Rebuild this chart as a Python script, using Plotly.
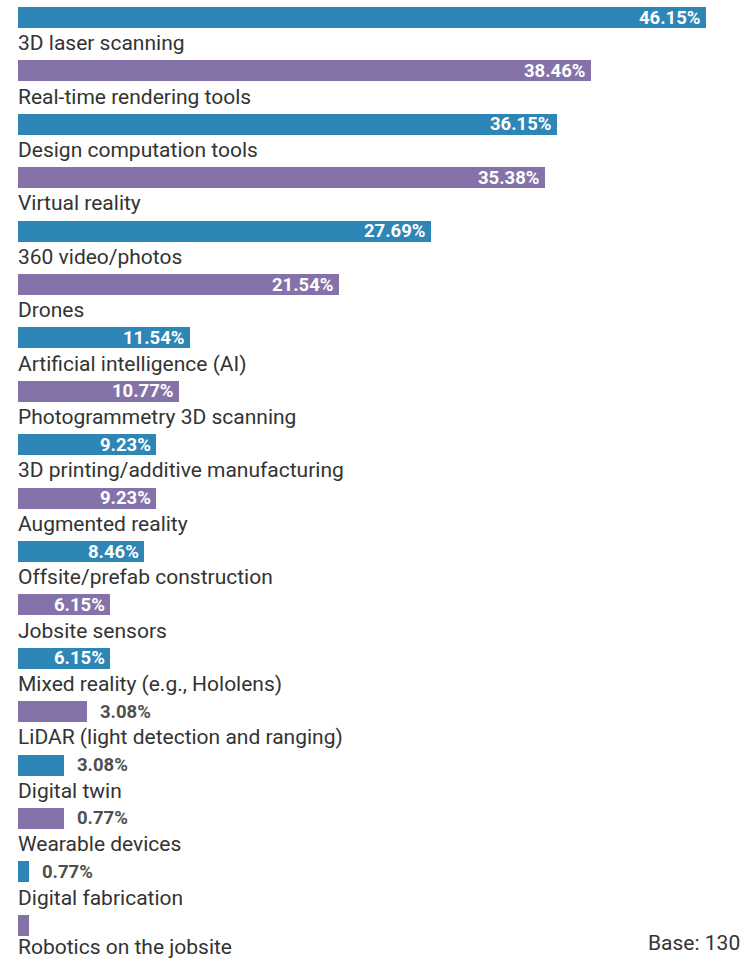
import plotly.graph_objects as go

categories = [
    "3D laser scanning", "Real-time rendering tools", "Design computation tools",
    "Virtual reality", "360 video/photos", "Drones", "Artificial intelligence (AI)",
    "Photogrammetry 3D scanning", "3D printing/additive manufacturing",
    "Augmented reality", "Offsite/prefab construction", "Jobsite sensors",
    "Mixed reality (e.g., Hololens)", "LiDAR (light detection and ranging)",
    "Digital twin", "Wearable devices", "Digital fabrication", "Robotics on the jobsite",
]
# bar lengths as drawn (percent)
values = [46.15, 38.46, 36.15, 35.38, 27.69, 21.54, 11.54, 10.77, 9.23, 9.23,
          8.46, 6.15, 6.15, 4.62, 3.08, 3.08, 0.77, 0.77]
# value labels as printed
value_labels = ["46.15%", "38.46%", "36.15%", "35.38%", "27.69%", "21.54%", "11.54%",
                "10.77%", "9.23%", "9.23%", "8.46%", "6.15%", "6.15%", "3.08%",
                "3.08%", "0.77%", "0.77%", ""]
inside_label = [True] * 13 + [False] * 5
base_note = "Base: 130"

BLUE = "#2e86b6"
PURPLE = "#8572a8"
colors = [BLUE if i % 2 == 0 else PURPLE for i in range(len(categories))]
ypos = list(range(len(categories)))

fig = go.Figure()
fig.add_trace(go.Bar(
    x=values, y=ypos, orientation="h", marker=dict(color=colors, line=dict(width=0)),
    width=0.395, hoverinfo="skip", showlegend=False,
))

n = len(categories)
annotations = []
for i, (cat, v, lab, ins) in enumerate(zip(categories, values, value_labels, inside_label)):
    annotations.append(dict(
        x=0, y=i + 0.48, xref="x", yref="y", text=cat, showarrow=False,
        xanchor="left", yanchor="middle", xshift=-2,
        yshift=4 if i == n - 1 else 0,
        font=dict(family="Roboto, sans-serif", size=21, color="#333333"),
    ))
    if lab:
        if ins:
            annotations.append(dict(
                x=v, y=i, xref="x", yref="y", text="<b>%s</b>" % lab, showarrow=False,
                xanchor="right", yanchor="middle", xshift=-3,
                font=dict(family="Roboto, sans-serif", size=18.5, color="white"),
            ))
        else:
            annotations.append(dict(
                x=v, y=i, xref="x", yref="y", text="<b>%s</b>" % lab, showarrow=False,
                xanchor="left", yanchor="middle", xshift=11,
                font=dict(family="Roboto, sans-serif", size=18.5, color="#505050"),
            ))
annotations.append(dict(
    x=1, y=0, xref="paper", yref="paper", text=base_note, showarrow=False,
    xanchor="right", yanchor="bottom", xshift=-4, yshift=3,
    font=dict(family="Roboto, sans-serif", size=21, color="#333333"),
))

fig.update_layout(
    width=746, height=960,
    margin=dict(l=18, r=0, t=0, b=0),
    paper_bgcolor="white", plot_bgcolor="white",
    xaxis=dict(range=[0, 48.83], visible=False, fixedrange=True),
    yaxis=dict(range=[17.65, -0.328], visible=False, fixedrange=True),
    annotations=annotations,
    bargap=0,
)

fig.write_html(
    "out.html",
    config={"displayModeBar": False},
    post_script="document.body.style.margin='0';document.body.style.overflow='hidden';",
)
